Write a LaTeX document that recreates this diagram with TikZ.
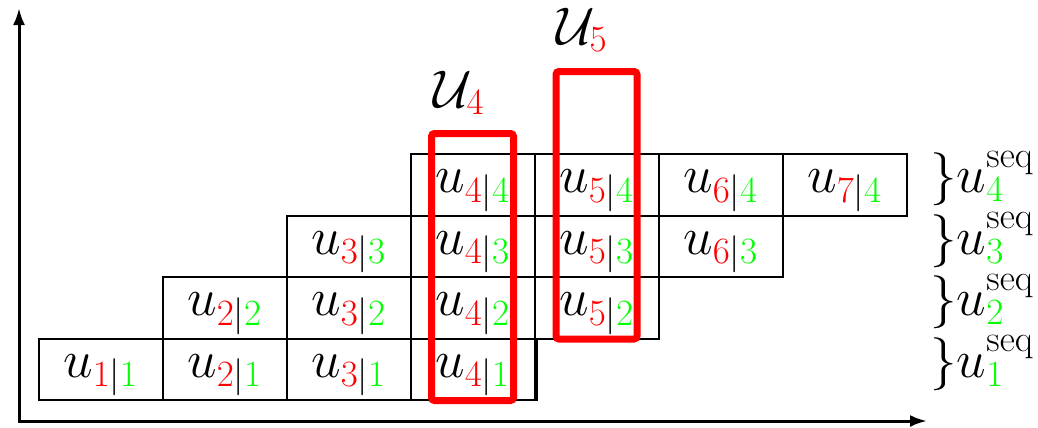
\RequirePackage{fix-cm}
\documentclass[tikz,border=0pt]{standalone}
\usetikzlibrary{arrows.meta}
\definecolor{pred}{RGB}{255,0,0}
\definecolor{pgreen}{RGB}{0,255,0}
\newcommand\bigfont{\fontsize{26.5}{32}\selectfont}
\begin{document}
\begin{tikzpicture}[x=0.5pt,y=-0.5pt,
  cell/.style={draw,line width=1pt,minimum width=62pt,minimum height=30.75pt,
    inner sep=0pt,text height=14pt,text depth=6pt,font=\bigfont},
  lab/.style={inner sep=0pt,font=\bigfont},
  redbox/.style={draw=pred,line width=3.5pt,rounded corners=1.5pt},
  axis/.style={line width=1.5pt,{Latex[length=8.5pt,width=6pt]}-{Latex[length=8.5pt,width=6pt]}}]
\useasboundingbox (0,0) rectangle (1038,428);
% axes
\coordinate (O) at (19,421);
\coordinate (Ytop) at (19,8);
\coordinate (Xend) at (927,421);
\draw[axis] (Ytop) -- (O) -- (Xend);
% cells
\foreach \k in {1,2,3,4}{
  \pgfmathsetmacro\cy{400-61.5*(\k-1)-30.75}
  \pgfmathtruncatemacro\last{\k+3}
  \foreach \i in {\k,...,\last}{
    \pgfmathsetmacro\cx{38.7+124*(\i-1)+62}
    \node[cell] (c\i-\k) at (\cx,\cy) {$u_{\textcolor{pred}{\i}|\textcolor{pgreen}{\k}}$};
  }
  \node[lab,anchor=base west] (s\k) at (930,\cy+8) {$\}u^{\mathrm{seq}}_{\textcolor{pgreen}{\k}}$};
}
\draw[line width=2pt] (c4-1.north east) -- (c4-1.south east);
% red boxes
\draw[redbox] (431.5,133.5) rectangle (513.5,400.5);
\draw[redbox] (556,71.5) rectangle (637,339);
\node[lab,anchor=base west] (L4) at (433,107) {$\mathcal{U}_{\textcolor{pred}{4}}$};
\node[lab,anchor=base west] (L5) at (556,44) {$\mathcal{U}_{\textcolor{pred}{5}}$};
\end{tikzpicture}
\end{document}
